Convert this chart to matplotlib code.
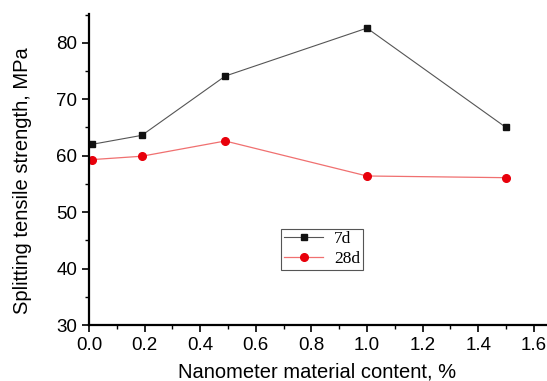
import matplotlib
matplotlib.use("Agg")
import matplotlib.pyplot as plt
from matplotlib.ticker import MultipleLocator

# Data
content = [0.01, 0.19, 0.49, 1.0, 1.5]
strength_7d = [62.0, 63.6, 74.1, 82.6, 65.0]
strength_28d = [59.3, 59.9, 62.6, 56.4, 56.1]

plt.rcParams['font.family'] = ['Liberation Sans', 'DejaVu Sans']

fig = plt.figure(figsize=(5.47, 3.81), dpi=100)
ax = fig.add_axes([89 / 547, 1 - 325 / 381, (546 - 89) / 547, (325 - 14) / 381])

ax.plot(content, strength_7d, color='#555555', lw=0.8, marker='s', ms=5,
        mfc='#111111', mec='#111111', label='7d')
ax.plot(content, strength_28d, color='#f07070', lw=0.9, marker='o', ms=5.5,
        mfc='#e8000b', mec='#e8000b', label='28d')

ax.set_xlim(0, 1.644)
ax.set_ylim(30, 85.1)
ax.xaxis.set_major_locator(MultipleLocator(0.2))
ax.xaxis.set_minor_locator(MultipleLocator(0.1))
ax.yaxis.set_major_locator(MultipleLocator(10))
ax.yaxis.set_minor_locator(MultipleLocator(5))
ax.xaxis.set_major_formatter(lambda v, p: f"{v:.1f}")

ax.spines['top'].set_visible(False)
ax.spines['right'].set_visible(False)
ax.spines['left'].set_linewidth(1.6)
ax.spines['bottom'].set_linewidth(1.6)
ax.tick_params(which='major', direction='out', length=5, width=1.2, labelsize=13.5)
ax.tick_params(which='minor', direction='out', length=3, width=1.0)

ax.set_xlabel("Nanometer material content, %", fontsize=14.5, labelpad=6)
ax.set_ylabel("Splitting tensile strength, MPa", fontsize=14.5)
ax.yaxis.set_label_coords(-0.125, 0.463)

leg = ax.legend(loc='upper left', bbox_to_anchor=(0.42, 0.31), fancybox=False,
                edgecolor='#555555', framealpha=1, handlelength=2.3,
                borderpad=0.15, labelspacing=0.2, handletextpad=0.6,
                borderaxespad=0,
                prop={'family': ['Liberation Serif', 'DejaVu Serif'], 'size': 12.5})
leg.get_frame().set_linewidth(0.8)

fig.savefig("out.png", dpi=100)
